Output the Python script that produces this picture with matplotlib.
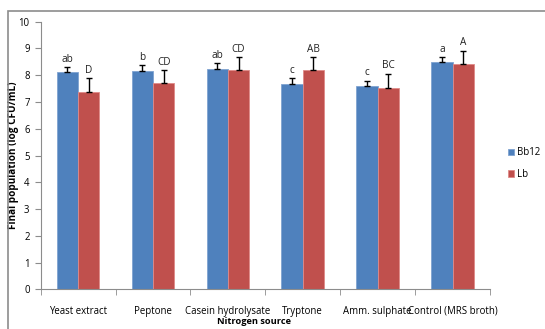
import numpy as np
import matplotlib.pyplot as plt
from matplotlib.patches import Rectangle

categories = ['Yeast extract', 'Peptone', 'Casein hydrolysate', 'Tryptone',
              'Amm. sulphate', 'Control (MRS broth)']
bb12 = [8.11, 8.16, 8.23, 7.67, 7.60, 8.48]
bb12_err = [0.21, 0.22, 0.22, 0.21, 0.20, 0.20]
lb = [7.38, 7.70, 8.19, 8.19, 7.53, 8.41]
lb_err = [0.50, 0.49, 0.50, 0.50, 0.53, 0.51]
bb12_letters = ['ab', 'b', 'ab', 'c', 'c', 'a']
lb_letters = ['D', 'CD', 'CD', 'AB', 'BC', 'A']

plt.rcParams['font.family'] = ['Open Sans', 'DejaVu Sans']
fs = 6.9

fig = plt.figure(figsize=(5.45, 3.29), dpi=100)
# outer chart frame
fig.patches.append(Rectangle((8 / 545, -0.1), 1.2, 1 - 11 / 329 + 0.1,
                             transform=fig.transFigure, fill=False,
                             edgecolor='#8c8c8c', linewidth=1.2))
ax = fig.add_axes([0.0747, 0.1207, 0.8243, 0.8133])

x = np.arange(len(categories))
w = 0.285
ax.bar(x - w / 2, bb12, w, color='#4F81BD', edgecolor='#7fa3d1', linewidth=0.6, label='Bb12')
ax.bar(x + w / 2, lb, w, color='#C0504D', edgecolor='#e08a88', linewidth=0.6, label='Lb')
ax.errorbar(x - w / 2, bb12, yerr=[np.zeros(6), bb12_err], fmt='none',
            ecolor='black', elinewidth=1, capsize=2.5, capthick=1)
ax.errorbar(x + w / 2, lb, yerr=[np.zeros(6), lb_err], fmt='none',
            ecolor='black', elinewidth=1, capsize=2.5, capthick=1)

for i in range(len(categories)):
    ax.text(x[i] - w / 2, bb12[i] + bb12_err[i] + 0.08, bb12_letters[i],
            ha='center', va='bottom', fontsize=7.2, color='#222222')
    ax.text(x[i] + w / 2, lb[i] + lb_err[i] + 0.08, lb_letters[i],
            ha='center', va='bottom', fontsize=7.2, color='#222222')

ax.set_xlim(-0.5, len(categories) - 0.5)
ax.set_ylim(0, 10)
ax.set_yticks(range(0, 11))
ax.set_xticks(x)
ax.set_xticklabels(categories)
ax.set_xticks(np.arange(-0.5, len(categories)), minor=True)
ax.tick_params(axis='x', which='major', length=0, pad=12, labelsize=fs)
ax.tick_params(axis='x', which='minor', length=4, color='#8c8c8c')
ax.tick_params(axis='y', length=4, color='#8c8c8c', labelsize=fs, pad=4)
for s in ['top', 'right']:
    ax.spines[s].set_visible(False)
for s in ['left', 'bottom']:
    ax.spines[s].set_color('#8c8c8c')

fig.text(254 / 545, 1 - 322 / 329, 'Nitrogen source', fontsize=6.7,
         fontweight='bold', ha='center', va='center')
ax.set_ylabel('Final population (log CFU/mL)', fontsize=7.2, fontweight='bold', labelpad=0)

ax.legend(loc='center left', bbox_to_anchor=(1.02, 0.47), frameon=False,
          fontsize=fs, handlelength=0.7, handleheight=0.7, labelspacing=1.1,
          handletextpad=0.3)

fig.savefig('out.png', dpi=100)
